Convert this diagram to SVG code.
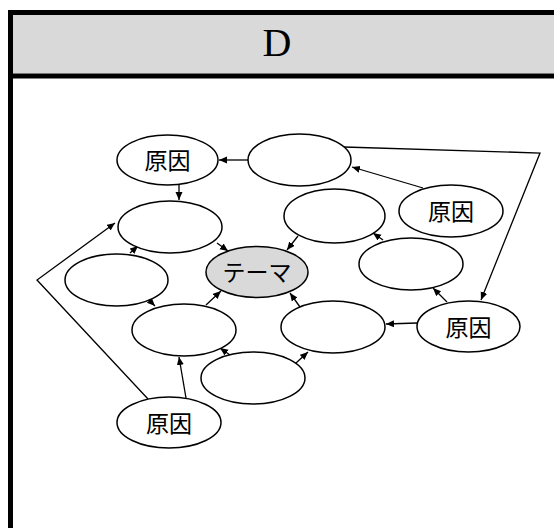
<svg xmlns="http://www.w3.org/2000/svg" width="554" height="528" viewBox="0 0 554 528">
<style>
.e{fill:#fff;stroke:#000;stroke-width:1.5}
.t{font-family:"Noto Sans CJK JP","Noto Sans CJK SC",sans-serif;font-size:23px;text-anchor:middle;dominant-baseline:central;fill:#000}
.c{fill:none;stroke:#000;stroke-width:1.3;marker-end:url(#ah)}
</style>
<defs>
<marker id="ah" markerUnits="userSpaceOnUse" markerWidth="9" markerHeight="8" refX="8" refY="3.5" orient="auto">
<path d="M0,0 L8,3.5 L0,7 z" fill="#000"/>
</marker>
</defs>
<g id="frame">
<rect x="10.5" y="12.5" width="600" height="600" fill="#fff" stroke="#000" stroke-width="5"/>
<rect x="13" y="15" width="545" height="58.5" fill="#d9d9d9"/>
<line x1="8" y1="76" x2="560" y2="76" stroke="#000" stroke-width="5"/>
<text x="277" y="56" font-family="Liberation Serif, serif" font-size="40" text-anchor="middle">D</text>
</g>
<g id="connectors">
<line class="c" x1="248" y1="160" x2="219" y2="160"/>
<line class="c" x1="179" y1="185" x2="179" y2="200"/>
<line class="c" x1="217" y1="243" x2="228" y2="251"/>
<line class="c" x1="130" y1="253" x2="138" y2="246"/>
<line class="c" x1="298" y1="236" x2="287" y2="250"/>
<line class="c" x1="423" y1="188" x2="352" y2="167"/>
<line class="c" x1="383" y1="240" x2="373" y2="233"/>
<polyline class="c" points="344,147 540,153 481,300"/>
<line class="c" x1="447" y1="302" x2="433" y2="288"/>
<line class="c" x1="149" y1="300" x2="155" y2="306"/>
<line class="c" x1="206" y1="305" x2="221" y2="291"/>
<line class="c" x1="300" y1="307" x2="290" y2="293"/>
<line class="c" x1="230" y1="355" x2="220" y2="348"/>
<line class="c" x1="296" y1="363" x2="308" y2="352"/>
<line class="c" x1="186" y1="398" x2="179" y2="357"/>
<line class="c" x1="417" y1="323" x2="386" y2="324"/>
<polyline class="c" points="148,399 37,280 115,223"/>
</g>
<g id="n1"><ellipse class="e" cx="167.5" cy="160" rx="50.5" ry="25"/><text class="t" x="167.5" y="159">原因</text></g>
<g id="n2"><ellipse class="e" cx="299.5" cy="160" rx="51.5" ry="26"/></g>
<g id="n3"><ellipse class="e" cx="170" cy="227" rx="52" ry="26"/></g>
<g id="n4"><ellipse class="e" cx="334.5" cy="216" rx="50.5" ry="27"/></g>
<g id="n5"><ellipse class="e" cx="451" cy="211" rx="52" ry="26"/><text class="t" x="451" y="210">原因</text></g>
<g id="n6"><ellipse class="e" cx="116.5" cy="280" rx="51.5" ry="26"/></g>
<g id="n7"><ellipse class="e" cx="257" cy="272" rx="51" ry="25.5" style="fill:#d9d9d9"/><text class="t" x="257" y="271">テーマ</text></g>
<g id="n8"><ellipse class="e" cx="411" cy="264" rx="52" ry="26"/></g>
<g id="n9"><ellipse class="e" cx="184" cy="330" rx="52" ry="26"/></g>
<g id="n10"><ellipse class="e" cx="333" cy="327" rx="52" ry="26"/></g>
<g id="n11"><ellipse class="e" cx="468.5" cy="326.5" rx="51.5" ry="25.5"/><text class="t" x="468.5" y="325.5">原因</text></g>
<g id="n12"><ellipse class="e" cx="253" cy="378" rx="52" ry="26"/></g>
<g id="n13"><ellipse class="e" cx="169" cy="422.5" rx="52" ry="25.5"/><text class="t" x="169" y="421.5">原因</text></g>
</svg>
